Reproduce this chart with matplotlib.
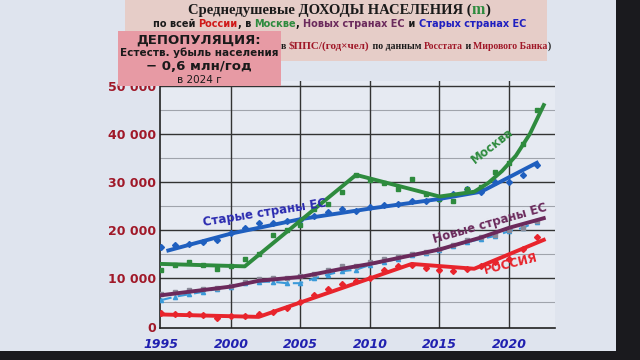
"""
    income per capita chart (Russia, Moscow, EU)
"""

import matplotlib.pyplot as plt
from matplotlib.patches import Rectangle

# Data
years = list(range(1995, 2023))

russia_pts = [2800, 2700, 2700, 2300, 1700, 2100, 2200, 2500, 3000, 3800,
              5000, 6500, 7700, 8800, 9500, 10000, 11800, 12500, 12800, 12200,
              11700, 11500, 11900, 12500, 13300, 14000, 16000, 18500]
moscow_pts = [11800, 12700, 13500, 12800, 12000, 12500, 14000, 15000, 19000, 20000,
              21000, 24500, 25500, 28000, 31500, 30500, 29800, 28500, 30700, 27500,
              26500, 26000, 28500, 29000, 32000, 34000, 38000, 45000]
old_eu_pts = [16500, 17000, 17200, 17500, 18000, 19500, 20500, 21500, 21500, 22000,
              22200, 23000, 23800, 24500, 24000, 24800, 25200, 25500, 26000, 26000,
              26500, 27500, 28500, 28000, 30000, 30000, 31500, 33500]
new_eu_pts = [6800, 7200, 7500, 7800, 8000, 8500, 9200, 9800, 10000, 10000,
              10500, 11000, 11800, 12500, 12500, 13500, 14000, 14500, 15000, 15500,
              16000, 17000, 18000, 18500, 19000, 20000, 20500, 22000]
dashed_pts = [5500, 6200, 6700, 7200, 7800, 8300, 9000, 9300, 9300, 9000,
              9000, 10000, 10800, 11500, 11800, 12800, 13500, 14000, 14800, 15300,
              15800, 16800, 17500, 18200, 18800, 19800, 20500, 21800]

# trend lines
russia_tr_x = [1995, 2002, 2013, 2017.5, 2022.5]
russia_tr_y = [2500, 2000, 13000, 12000, 18000]
moscow_tr_x = [1995, 2001, 2009, 2015, 2017.5, 2018.5, 2019.5, 2020.5, 2021.5, 2022.5]
moscow_tr_y = [13000, 12500, 31500, 27000, 28000, 29800, 32300, 35500, 40000, 46000]
old_eu_tr_x = [1995.5, 2000, 2005, 2010, 2015, 2018, 2022]
old_eu_tr_y = [15800, 19300, 22300, 24500, 26500, 28000, 34000]
new_eu_tr_x = [1995, 2000, 2002, 2005, 2008, 2010, 2015, 2018, 2020, 2022.5]
new_eu_tr_y = [6500, 8300, 9500, 10300, 12000, 13000, 16000, 18500, 20500, 22500]

x_ticks = [1995, 2000, 2005, 2010, 2015, 2020]
y_ticks = [0, 10000, 20000, 30000, 40000, 50000]
y_labels = ["0", "10 000", "20 000", "30 000", "40 000", "50 000"]

RED = "#e8242c"
GREEN = "#2e8b3e"
BLUE = "#1f5fbf"
PURPLE = "#6b2a5c"
CYAN = "#3a9ad9"
DARKRED = "#a01828"
INK = "#1a1a1a"


def colored_line(fig, parts, xc, y, **kw):
    """draws a line of text made of differently coloured parts, centred at xc"""
    rend = fig.canvas.get_renderer()
    texts = []
    total = 0
    for txt, col, fs, fam in parts:
        t = fig.text(0, y, txt, color=col, fontsize=fs, family=fam,
                     ha="left", va="center", **kw)
        total += t.get_window_extent(renderer=rend).width / fig.bbox.width
        texts.append(t)
    x = xc - total / 2
    for t in texts:
        t.set_x(x)
        x += t.get_window_extent(renderer=rend).width / fig.bbox.width


fig = plt.figure(figsize=(6.4, 3.6), dpi=100)
fig.patch.set_facecolor("#dfe4ee")
fig.canvas.draw()

# title box and depopulation box
fig.patches.append(Rectangle((0.195, 0.83), 0.66, 0.17, transform=fig.transFigure,
                             facecolor="#e6cdc8", edgecolor="none", zorder=0))
fig.patches.append(Rectangle((0.184, 0.762), 0.255, 0.153, transform=fig.transFigure,
                             facecolor="#e79aa4", edgecolor="none", zorder=1))
# dark photo borders
fig.patches.append(Rectangle((0.962, 0), 0.04, 1, transform=fig.transFigure,
                             facecolor="#1a1a1e", edgecolor="none", zorder=1))
fig.patches.append(Rectangle((0, 0), 1, 0.025, transform=fig.transFigure,
                             facecolor="#1a1a1e", edgecolor="none", zorder=1))

ax = fig.add_axes([0.25, 0.089, 0.617, 0.686])
ax.set_facecolor("#e6eaf2")

# grid
for v in range(5000, 51000, 10000):
    ax.axhline(v, color="#a0a4ac", lw=0.8, zorder=1)
for v in y_ticks[1:]:
    ax.axhline(v, color="#333333", lw=1.0, zorder=1)
for x in x_ticks[1:]:
    ax.axvline(x, color="#333333", lw=1.0, zorder=1)

# series
ax.plot(years, dashed_pts, color=CYAN, lw=1.5, ls=(0, (5, 3)), marker="^",
        ms=3, zorder=3)
ax.plot(years, new_eu_pts, ls="none", marker="s", ms=3.5, color="#8a8a98", zorder=3)
ax.plot(new_eu_tr_x, new_eu_tr_y, color=PURPLE, lw=2.8, zorder=4)

ax.plot(years, russia_pts, ls="none", marker="D", ms=3, color=RED, zorder=3)
ax.plot(russia_tr_x, russia_tr_y, color=RED, lw=2.8, zorder=4)

ax.plot(years, old_eu_pts, ls="none", marker="D", ms=3, color=BLUE, zorder=3)
ax.plot(old_eu_tr_x, old_eu_tr_y, color=BLUE, lw=2.8, zorder=4)

ax.plot(years, moscow_pts, ls="none", marker="s", ms=3, color=GREEN, zorder=3)
ax.plot(moscow_tr_x, moscow_tr_y, color=GREEN, lw=2.8, zorder=4)

# labels on lines
ax.text(2002.4, 23600, "Старые страны ЕС", color="#2a2ab0", fontsize=8.5,
        fontweight="bold", rotation=9, ha="center", va="center", zorder=5)
ax.text(2018.8, 37600, "Москва", color=GREEN, fontsize=8.5, fontweight="bold",
        rotation=38, ha="center", va="center", zorder=5)
ax.text(2018.6, 21300, "Новые страны ЕС", color=PURPLE, fontsize=8.5,
        fontweight="bold", rotation=16, ha="center", va="center", zorder=5)
ax.text(2020.1, 13000, "РОССИЯ", color=RED, fontsize=8.5, fontweight="bold",
        rotation=14, ha="center", va="center", zorder=5)

ax.set_xlim(1994.9, 2023.3)
ax.set_ylim(-300, 51000)
ax.set_xticks(x_ticks)
ax.set_xticklabels([str(x) for x in x_ticks], color="#2020b0", fontsize=9,
                   fontweight="bold", fontstyle="italic")
ax.set_yticks(y_ticks)
ax.set_yticklabels(y_labels, color=DARKRED, fontsize=9, fontweight="bold")
ax.tick_params(axis="y", length=0, pad=3)
ax.tick_params(axis="x", length=0, pad=7)
for side in ["top", "right"]:
    ax.spines[side].set_visible(False)
ax.spines["left"].set_color("#222222")
ax.spines["bottom"].set_color("#222222")
ax.spines["left"].set_linewidth(1.2)
ax.spines["bottom"].set_linewidth(1.2)

# title, three lines
SERIF = "Liberation Serif"
SANS = "DejaVu Sans"
colored_line(fig, [("Среднедушевые ДОХОДЫ НАСЕЛЕНИЯ (", INK, 10.5, SERIF),
                   ("m", GREEN, 11.5, SERIF), (")", INK, 10.5, SERIF)],
             0.53, 0.972, fontweight="bold")
colored_line(fig, [("по всей ", INK, 7, SANS), ("России", "#d01818", 7, SANS),
                   (", в ", INK, 7, SANS), ("Москве", GREEN, 7, SANS),
                   (", ", INK, 7, SANS), ("Новых странах ЕС", PURPLE, 7, SANS),
                   (" и ", INK, 7, SANS), ("Старых странах ЕС", "#1f1fc0", 7, SANS)],
             0.53, 0.932, fontweight="bold")
colored_line(fig, [("в ", INK, 7, SERIF), ("$ППС/(год×чел)", DARKRED, 8, SERIF),
                   (" по данным ", INK, 7, SERIF), ("Росстата", DARKRED, 7, SERIF),
                   (" и ", INK, 7, SERIF), ("Мирового Банка", DARKRED, 7, SERIF),
                   (")", INK, 7, SERIF)],
             0.65, 0.872, fontweight="bold")

# depopulation box text
fig.text(0.311, 0.890, "ДЕПОПУЛЯЦИЯ:", fontsize=9.5, fontweight="bold",
         color=INK, ha="center", va="center", zorder=3)
fig.text(0.311, 0.853, "Естеств. убыль населения", fontsize=7.5,
         fontweight="bold", color=INK, ha="center", va="center", zorder=3)
fig.text(0.311, 0.815, "− 0,6 млн/год", fontsize=9.5, fontweight="bold",
         color=INK, ha="center", va="center", zorder=3)
fig.text(0.311, 0.779, "в 2024 г", fontsize=7.5, color=INK,
         ha="center", va="center", zorder=3)

plt.savefig("out.png", dpi=100, facecolor=fig.get_facecolor())
